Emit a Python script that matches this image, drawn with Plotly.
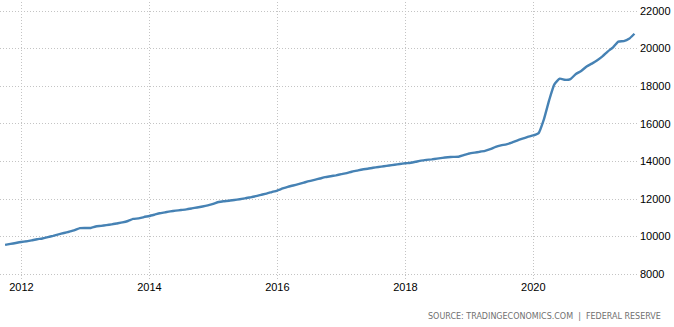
import pandas as pd
import plotly.graph_objects as go

start_month = "2011-09-01"
m2_values = [
    9560, 9610, 9660, 9710, 9750, 9800, 9860, 9900, 9970, 10040,
    10120, 10190, 10260, 10340, 10450, 10460, 10460, 10540, 10570, 10610,
    10650, 10700, 10755, 10830, 10940, 10970, 11040, 11096, 11170, 11240,
    11290, 11340, 11380, 11415, 11450, 11500, 11550, 11600, 11660, 11740,
    11840, 11880, 11905, 11950, 11990, 12030, 12090, 12150, 12220, 12290,
    12370, 12450, 12560, 12650, 12720, 12790, 12870, 12950, 13020, 13090,
    13160, 13210, 13260, 13320, 13380, 13450, 13510, 13570, 13610, 13660,
    13700, 13740, 13780, 13820, 13860, 13900, 13930, 13980, 14040, 14080,
    14110, 14150, 14190, 14220, 14240, 14250, 14330, 14420, 14470, 14510,
    14560, 14650, 14770, 14850, 14910, 15000, 15110, 15210, 15300, 15380,
    15500, 16200, 17250, 18100, 18400, 18340, 18380, 18650, 18810, 19050,
    19200, 19380, 19600, 19840, 20070, 20370, 20400, 20520, 20790,
]
dates = pd.date_range(start_month, periods=len(m2_values), freq="MS") + pd.offsets.MonthEnd(0)

y_ticks = [8000, 10000, 12000, 14000, 16000, 18000, 20000, 22000]
source_text = "SOURCE: TRADINGECONOMICS.COM  |  FEDERAL RESERVE"

fig = go.Figure()
fig.add_trace(go.Scatter(
    x=dates, y=m2_values, mode="lines",
    line=dict(color="#4682b4", width=2.4, shape="spline", smoothing=0.5),
    hoverinfo="skip",
))

font_family = "Liberation Sans, Arial, sans-serif"
grid = dict(showgrid=True, gridcolor="#c4c4c4", griddash="1px,2px", gridwidth=1)
fig.update_layout(
    width=674, height=327,
    margin=dict(l=0, r=35, t=2, b=48),
    plot_bgcolor="white", paper_bgcolor="white",
    showlegend=False,
    font=dict(family=font_family, size=11, color="#000"),
    xaxis=dict(
        type="date",
        range=["2011-09-01", "2021-08-26"],
        tick0="2012-01-01", dtick="M24", tickformat="%Y",
        showline=False, zeroline=False, ticks="",
        tickfont=dict(family=font_family, size=11, color="#000"),
        **grid,
    ),
    yaxis=dict(
        side="right",
        range=[7745, 22479],
        tickvals=y_ticks, ticktext=[str(v) for v in y_ticks],
        showline=False, zeroline=False, ticks="",
        tickfont=dict(family=font_family, size=11, color="#000"),
        **grid,
    ),
    annotations=[dict(
        text=source_text, xref="paper", yref="paper",
        x=663 / 639, y=-0.135, xanchor="right", yanchor="middle",
        showarrow=False,
        font=dict(family="DejaVu Sans, sans-serif", size=8, color="#707070"),
    )],
)

fig.write_html("out.html")
